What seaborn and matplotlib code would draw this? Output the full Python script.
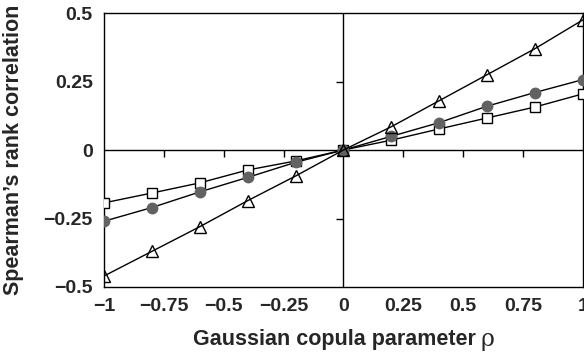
import numpy as np
import pandas as pd
import matplotlib
matplotlib.use('Agg')
import matplotlib.pyplot as plt
from matplotlib.markers import TICKDOWN, TICKLEFT
import seaborn as sns

# copula parameter values
rho = [-1, -0.8, -0.6, -0.4, -0.2, 0, 0.2, 0.4, 0.6, 0.8, 1]

# Spearman's rank correlation
tri_vals = [-0.46, -0.37, -0.28, -0.185, -0.095, 0, 0.085, 0.18, 0.275, 0.37, 0.475]
circ_vals = [-0.26, -0.21, -0.153, -0.10, -0.045, 0, 0.05, 0.10, 0.16, 0.21, 0.257]
sq_vals = [-0.193, -0.157, -0.12, -0.073, -0.04, 0, 0.036, 0.077, 0.117, 0.157, 0.205]

x_ticks = [-1, -0.75, -0.5, -0.25, 0, 0.25, 0.5, 0.75, 1]
x_ticklabels = ['\u22121', '\u22120.75', '\u22120.5', '\u22120.25', '0', '0.25', '0.5', '0.75', '1']
y_ticks = [-0.5, -0.25, 0, 0.25, 0.5]
y_ticklabels = ['\u22120.5', '\u22120.25', '0', '0.25', '0.5']
# small tick marks drawn on the zero lines
x_inner_ticks = [-0.75, -0.5, -0.25, 0.25, 0.5, 0.75]
y_inner_ticks = [-0.25, 0.25]

sns.set_style('white')
plt.rcParams['font.family'] = ['Liberation Sans', 'DejaVu Sans']

df = pd.DataFrame({'rho': rho, 'tri': tri_vals, 'circ': circ_vals, 'sq': sq_vals})

fig = plt.figure(figsize=(5.84, 3.53), dpi=100)
ax = fig.add_axes([0.178, 0.187, 0.82, 0.776])

# zero lines
ax.axhline(0, color='black', lw=1, zorder=1)
ax.axvline(0, color='black', lw=1, zorder=1)

line_kw = dict(color='black', lw=1, zorder=3)
sns.lineplot(data=df, x='rho', y='sq', ax=ax, marker='s', markersize=7.2,
             markerfacecolor='white', markeredgecolor='black', markeredgewidth=1, **line_kw)
sns.lineplot(data=df, x='rho', y='circ', ax=ax, marker='o', markersize=7.5,
             markerfacecolor='#626262', markeredgecolor='#626262', markeredgewidth=1, **line_kw)
sns.lineplot(data=df, x='rho', y='tri', ax=ax, marker='^', markersize=8.5,
             markerfacecolor='none', markeredgecolor='black', markeredgewidth=1, **line_kw)

ax.plot(x_inner_ticks, np.zeros(len(x_inner_ticks)), ls='none', marker=TICKDOWN,
        markersize=5, color='black', mew=1, zorder=2)
ax.plot(np.zeros(len(y_inner_ticks)), y_inner_ticks, ls='none', marker=TICKLEFT,
        markersize=5, color='black', mew=1, zorder=2)

ax.set_xlim(-1, 1)
ax.set_ylim(-0.5, 0.5)
ax.set_xticks(x_ticks)
ax.set_xticklabels(x_ticklabels)
ax.set_yticks(y_ticks)
ax.set_yticklabels(y_ticklabels)
ax.tick_params(length=0, labelsize=14, pad=8)
for lbl in ax.get_xticklabels() + ax.get_yticklabels():
    lbl.set_fontweight('bold')
for sp in ax.spines.values():
    sp.set_visible(True)
    sp.set_color('black')
    sp.set_linewidth(1)

ax.set_ylabel("Spearman\u2019s rank correlation", fontsize=15.5, fontweight='bold')
ax.yaxis.set_label_coords(-0.168, 0.5)

# x label: bold text followed by an upright rho
xl = ax.set_xlabel('Gaussian copula parameter', fontsize=15.5, fontweight='bold', ha='left')
rho_txt = fig.text(0, 0, '\u03c1', fontsize=17, family='DejaVu Serif', va='baseline')
fig.canvas.draw()
r = fig.canvas.get_renderer()
w1 = xl.get_window_extent(r).width
w2 = rho_txt.get_window_extent(r).width
gap = 5
ax_bb = ax.get_window_extent(r)
left_px = ax_bb.x0 + ax_bb.width / 2 - (w1 + gap + w2) / 2
ax.xaxis.set_label_coords((left_px - ax_bb.x0) / ax_bb.width, -0.155)
fig.canvas.draw()
bb = xl.get_window_extent(r)
rho_txt.set_position(((bb.x1 + gap) / fig.bbox.width, (bb.y0 + 4) / fig.bbox.height))

fig.savefig('out.png', dpi=100)
